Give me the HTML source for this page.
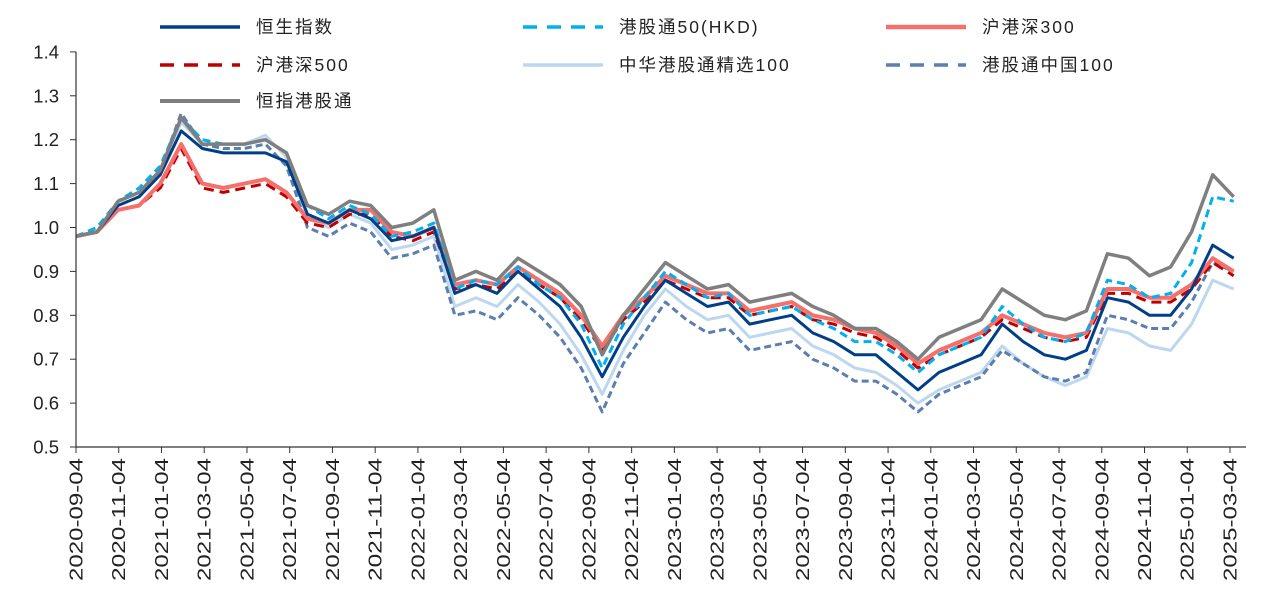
<!DOCTYPE html>
<html><head><meta charset="utf-8">
<style>
body{margin:0;background:#fff;}
svg text{font-family:"Liberation Sans","Noto Sans CJK SC",sans-serif;fill:#222;}
</style></head>
<body>
<svg id="chart" width="1266" height="597" viewBox="0 0 1266 597" xmlns="http://www.w3.org/2000/svg">
<g id="grid"></g>
<g id="series"></g>
<g id="axes"></g>
<g id="legend"></g>
</svg>
<script>
const months = 56;
const yTicks = [0.5,0.6,0.7,0.8,0.9,1.0,1.1,1.2,1.3,1.4];
const xLabels = ["2020-09-04","2020-11-04","2021-01-04","2021-03-04","2021-05-04","2021-07-04","2021-09-04","2021-11-04","2022-01-04","2022-03-04","2022-05-04","2022-07-04","2022-09-04","2022-11-04","2023-01-04","2023-03-04","2023-05-04","2023-07-04","2023-09-04","2023-11-04","2024-01-04","2024-03-04","2024-05-04","2024-07-04","2024-09-04","2024-11-04","2025-01-04","2025-03-04"];
const hsi = [0.98,0.99,1.05,1.07,1.12,1.22,1.18,1.17,1.17,1.17,1.15,1.03,1.01,1.04,1.02,0.97,0.98,1.00,0.85,0.87,0.85,0.90,0.86,0.82,0.75,0.66,0.75,0.82,0.88,0.85,0.82,0.83,0.78,0.79,0.80,0.76,0.74,0.71,0.71,0.67,0.63,0.67,0.69,0.71,0.78,0.74,0.71,0.70,0.72,0.84,0.83,0.80,0.80,0.86,0.96,0.93];
const ggt50 = [0.98,1.00,1.06,1.09,1.14,1.25,1.20,1.19,1.19,1.20,1.17,1.05,1.02,1.05,1.03,0.98,0.99,1.01,0.86,0.88,0.87,0.91,0.87,0.84,0.78,0.68,0.78,0.84,0.90,0.87,0.84,0.85,0.80,0.81,0.82,0.79,0.77,0.74,0.74,0.71,0.67,0.71,0.73,0.75,0.82,0.78,0.75,0.74,0.76,0.88,0.87,0.84,0.85,0.92,1.07,1.06];
const hgs300 = [0.98,0.99,1.04,1.05,1.10,1.19,1.10,1.09,1.10,1.11,1.08,1.02,1.01,1.04,1.04,0.99,0.98,1.00,0.87,0.88,0.87,0.91,0.88,0.85,0.80,0.73,0.80,0.84,0.89,0.87,0.85,0.85,0.81,0.82,0.83,0.80,0.79,0.77,0.76,0.73,0.69,0.72,0.74,0.76,0.80,0.78,0.76,0.75,0.76,0.86,0.86,0.84,0.84,0.87,0.93,0.90];
const hgs500 = [0.98,0.99,1.04,1.05,1.09,1.18,1.09,1.08,1.09,1.10,1.07,1.01,1.00,1.03,1.03,0.98,0.97,0.99,0.86,0.87,0.86,0.90,0.87,0.84,0.79,0.72,0.79,0.83,0.88,0.86,0.84,0.84,0.80,0.81,0.82,0.79,0.78,0.76,0.75,0.72,0.68,0.71,0.73,0.75,0.79,0.77,0.75,0.74,0.75,0.85,0.85,0.83,0.83,0.86,0.92,0.89];
const jx100 = [0.98,0.99,1.06,1.08,1.13,1.24,1.19,1.19,1.19,1.21,1.16,1.02,1.00,1.03,1.01,0.95,0.96,0.98,0.82,0.84,0.82,0.87,0.83,0.78,0.71,0.62,0.72,0.80,0.86,0.82,0.79,0.80,0.75,0.76,0.77,0.73,0.71,0.68,0.67,0.64,0.60,0.63,0.65,0.67,0.73,0.69,0.66,0.64,0.66,0.77,0.76,0.73,0.72,0.78,0.88,0.86];
const zg100 = [0.98,0.99,1.06,1.08,1.13,1.26,1.19,1.18,1.18,1.19,1.14,1.00,0.98,1.01,0.99,0.93,0.94,0.96,0.80,0.81,0.79,0.84,0.80,0.75,0.68,0.58,0.69,0.76,0.83,0.79,0.76,0.77,0.72,0.73,0.74,0.70,0.68,0.65,0.65,0.62,0.58,0.62,0.64,0.66,0.72,0.69,0.66,0.65,0.67,0.80,0.79,0.77,0.77,0.83,0.92,0.90];
const hzggt = [0.98,0.99,1.06,1.08,1.13,1.25,1.19,1.19,1.19,1.20,1.17,1.05,1.03,1.06,1.05,1.00,1.01,1.04,0.88,0.90,0.88,0.93,0.90,0.87,0.82,0.71,0.80,0.86,0.92,0.89,0.86,0.87,0.83,0.84,0.85,0.82,0.80,0.77,0.77,0.74,0.70,0.75,0.77,0.79,0.86,0.83,0.80,0.79,0.81,0.94,0.93,0.89,0.91,0.99,1.12,1.07];

const NS="http://www.w3.org/2000/svg";
const X0=76, XSTEP=21.37, Y0=447, YPX=439;
const x = i => X0 + i*XSTEP*0.985;
const y = v => Y0 - (v-0.5)*YPX;
function mk(tag,attrs,parent){const e=document.createElementNS(NS,tag);for(const k in attrs)e.setAttribute(k,attrs[k]);parent.appendChild(e);return e;}

const axes=document.getElementById('axes');
const yl=mk('line',{x1:X0,y1:y(1.4),x2:X0,y2:Y0,stroke:'#333','stroke-width':1.2},axes);


const xl=mk('line',{x1:X0,y1:Y0,x2:1246,y2:Y0,stroke:'#333','stroke-width':1.2},axes);


yTicks.forEach(v=>{
  const t=mk('line',{x1:X0-6,y1:y(v),x2:X0,y2:y(v),stroke:'#333'},axes);
  
  
  const tx=mk('text',{x:59,y:y(v)+6.5,'text-anchor':'end','font-size':18.5},axes);
  tx.textContent=v.toFixed(1);
  
  
});
xLabels.forEach((lab,i)=>{
  const px=X0+i*42.74;
  const t=mk('line',{x1:px,y1:Y0,x2:px,y2:Y0+6,stroke:'#333'},axes);
  
  
  const tx=mk('text',{x:0,y:0,'text-anchor':'end','font-size':18,textLength:123,lengthAdjust:'spacingAndGlyphs',transform:`translate(${px+6.5},${Y0+11}) rotate(-90)`},axes);
  tx.textContent=lab;
  
  
});

const seriesG=document.getElementById('series');
const defs=[
 {d:jx100,c:'#bdd7ee',w:3,dash:'',n:'series-zhonghua-select-100',label:'中华港股通精选100',col:1,row:1},
 {d:zg100,c:'#5b7fae',w:3,dash:'7,4',n:'series-ggt-china-100',label:'港股通中国100',col:2,row:1},
 {d:hgs500,c:'#c00000',w:3,dash:'10,6',n:'series-hgs-500',label:'沪港深500',col:0,row:1},
 {d:hgs300,c:'#f4706b',w:4,dash:'',n:'series-hgs-300',label:'沪港深300',col:2,row:0},
 {d:ggt50,c:'#00b0f0',w:3,dash:'8,5',n:'series-ggt-50-hkd',label:'港股通50(HKD)',col:1,row:0},
 {d:hsi,c:'#003f87',w:3,dash:'',n:'series-hang-seng-index',label:'恒生指数',col:0,row:0},
 {d:hzggt,c:'#7f7f7f',w:3.5,dash:'',n:'series-hsi-ggt',label:'恒指港股通',col:0,row:2}
];
defs.forEach(s=>{
  const pts=s.d.map((v,i)=>`${x(i).toFixed(1)},${y(v).toFixed(1)}`).join(' ');
  const p=mk('polyline',{points:pts,fill:'none',stroke:s.c,'stroke-width':s.w,'stroke-dasharray':s.dash,'stroke-linejoin':'round'},seriesG);
  
  
});
const leg=document.getElementById('legend');
const colX=[160,523,886], rowY=[27,65,101];
defs.forEach(s=>{
  const lx=colX[s.col], ly=rowY[s.row];
  const g=mk('g',{},leg);
  
  
  mk('line',{x1:lx,y1:ly,x2:lx+80,y2:ly,stroke:s.c,'stroke-width':s.w+0.5,'stroke-dasharray':s.dash?'14,10':''},g);
  const t=mk('text',{x:lx+96,y:ly+6,'font-size':17.5,'letter-spacing':2},g);
  t.textContent=s.label;
});
</script>
</body></html>
